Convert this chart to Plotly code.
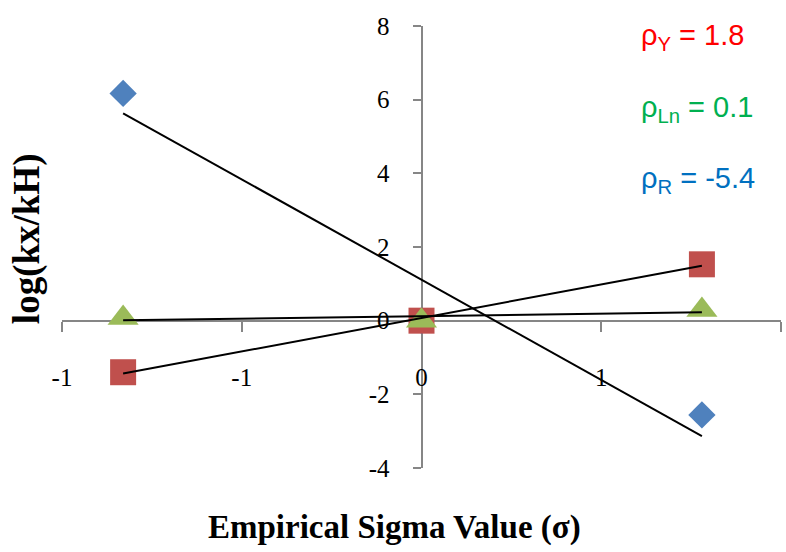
import numpy as np
import plotly.graph_objects as go

# ---- data ----
sigma = [-0.83, 0.0, 0.78]
log_R = [6.17, 0.0, -2.56]
log_Y = [-1.40, 0.0, 1.53]
log_Ln = [0.07, 0.0, 0.29]

x_tickvals = [-1, -0.5, 0, 0.5, 1]
x_ticktext = ["-1", "-1", "0", "1", "1"]
y_tickvals = [-4, -2, 0, 2, 4, 6, 8]
y_ticktext = ["-4", "-2", "0", "2", "4", "6", "8"]

series = [
    ("R", log_R, "#4F81BD", "diamond", 21, "#0070C0"),
    ("Y", log_Y, "#C0504D", "square", 26, "#FF0000"),
    ("Ln", log_Ln, "#9BBB59", "triangle-up", 27, "#00B050"),
]

fig = go.Figure()

# markers
for name, ys, col, sym, sz, _ in series:
    fig.add_trace(go.Scatter(
        x=sigma, y=ys, mode="markers", name=name,
        marker=dict(symbol=sym, size=sz, color=col, line=dict(width=0)),
        showlegend=False,
    ))

# linear trendlines (least squares) drawn on top
slopes = {}
xs = np.array(sigma)
xline = np.array([xs.min(), xs.max()])
for name, ys, col, sym, sz, _ in series:
    m, b = np.polyfit(xs, np.array(ys), 1)
    slopes[name] = m
    fig.add_trace(go.Scatter(
        x=xline, y=m * xline + b, mode="lines",
        line=dict(color="black", width=2), showlegend=False,
        hoverinfo="skip",
    ))

axis_col = "#868686"
tick_font = dict(family="Liberation Serif", size=25, color="black")

fig.update_layout(
    width=786, height=552,
    margin=dict(l=62, r=5, t=26, b=84, autoexpand=False),
    paper_bgcolor="white", plot_bgcolor="white",
    xaxis=dict(
        range=[-1, 1], anchor="free", position=1/3,
        tickmode="array", tickvals=x_tickvals, ticktext=x_ticktext,
        showline=True, linecolor=axis_col, linewidth=2,
        ticks="outside", ticklen=10, tickwidth=2, tickcolor=axis_col,
        ticklabelstandoff=24,
        showgrid=False, zeroline=False, tickfont=tick_font,
        layer="below traces",
    ),
    yaxis=dict(
        range=[-4, 8], anchor="free", position=0.5,
        tickmode="array", tickvals=y_tickvals, ticktext=y_ticktext,
        showline=True, linecolor=axis_col, linewidth=2,
        ticks="outside", ticklen=8, tickwidth=2, tickcolor=axis_col,
        ticklabelstandoff=18,
        showgrid=False, zeroline=False, tickfont=tick_font,
        layer="below traces",
    ),
)

annotations = [
    dict(text="<b>Empirical Sigma Value (σ)</b>", xref="paper", yref="paper",
         x=0.4618, y=-0.1335, xanchor="center", yanchor="middle", showarrow=False,
         font=dict(family="Liberation Serif", size=33, color="black")),
    dict(text="<b>log(kx/kH)</b>", xref="paper", yref="paper",
         x=-0.0487, y=0.52, xanchor="center", yanchor="middle", showarrow=False,
         textangle=-90,
         font=dict(family="Liberation Serif", size=37, color="black")),
]

rho_pos = {"Y": 0.976, "Ln": 0.812, "R": 0.652}
for name, ys, col, sym, sz, tcol in series:
    annotations.append(dict(
        text=f"ρ<sub>{name}</sub> = {slopes[name]:.1f}",
        xref="paper", yref="paper", x=0.803, y=rho_pos[name],
        xanchor="left", yanchor="middle", showarrow=False,
        font=dict(family="Liberation Sans", size=29, color=tcol),
    ))
fig.update_layout(annotations=annotations)

fig.write_html("out.html",
               config={"displayModeBar": False},
               post_script="document.body.style.margin='0';document.body.style.overflow='hidden';")
